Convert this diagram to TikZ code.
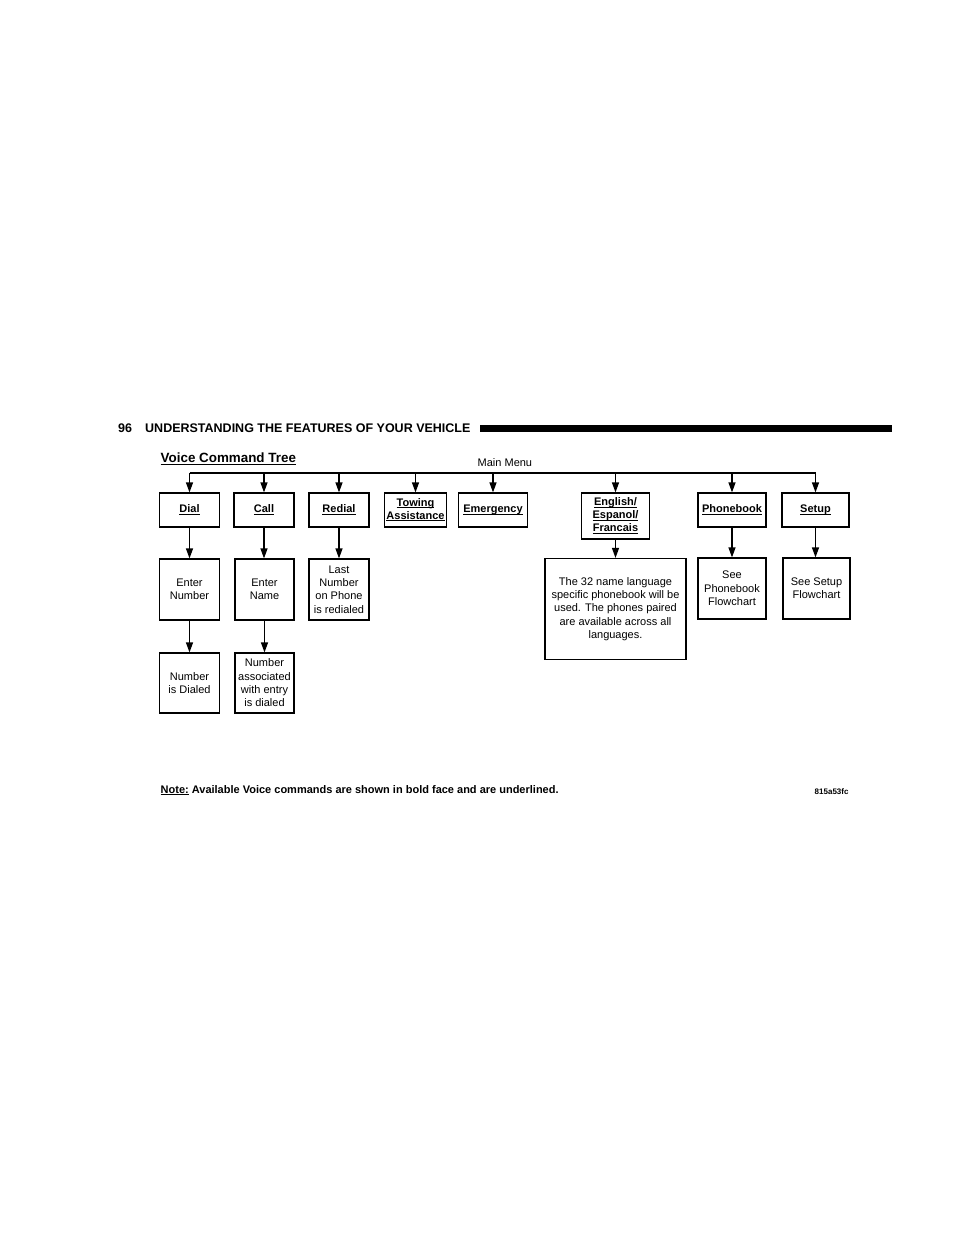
\documentclass[tikz,border=0pt]{standalone}
\usepackage{fontspec}
\setmainfont{Liberation Sans}
\usetikzlibrary{arrows.meta}
\newcommand\ulx[1]{\leavevmode\vphantom{Agy}\setbox0\hbox{#1}\rlap{\rule[-1.9pt]{\wd0}{0.9pt}}\box0\relax}
\begin{document}
\begin{tikzpicture}[x=1pt,y=-1pt,
  box/.style={draw,line width=1.2pt,inner sep=0pt,align=center,
    font=\fontsize{11}{13.3}\selectfont},
  cmd/.style={box,font=\fontsize{11}{13}\selectfont\bfseries},
  arr/.style={line width=1.2pt,-{Triangle[length=10pt,width=7pt]}},
  lbl/.style={inner sep=0pt,anchor=base west}]
\useasboundingbox (0,0) rectangle (954,1235);
\fill[white] (0,0) rectangle (954,1235);

% header
\node[lbl,font=\fontsize{12.5}{14}\selectfont\bfseries] (pg) at (118,432.3) {96};
\node[lbl,font=\fontsize{12.5}{14}\selectfont\bfseries] (hd) at (145,432.3) {UNDERSTANDING THE FEATURES OF YOUR VEHICLE};
\fill (480,424.5) rectangle (891.5,432);

\node[lbl,font=\fontsize{13.4}{15}\selectfont\bfseries] (title) at (160.5,462.5)
  {\leavevmode\setbox0\hbox{Voice Command Tree}\rlap{\rule[-2.6pt]{\wd0}{1.2pt}}\box0\relax};
\node[lbl,font=\fontsize{11}{13}\selectfont] (mm) at (477.5,466.5) {Main Menu};

% top row
\node[cmd,minimum width=60pt,minimum height=34pt] (dial) at (189.5,510) {\ulx{Dial}};
\node[cmd,minimum width=60pt,minimum height=34pt] (call) at (264,510) {\ulx{Call}};
\node[cmd,minimum width=60pt,minimum height=34pt] (redial) at (339,510) {\ulx{Redial}};
\node[cmd,minimum width=62pt,minimum height=34pt] (towing) at (415.5,510) {\ulx{Towing}\\\ulx{Assistance}};
\node[cmd,minimum width=69pt,minimum height=34pt] (emerg) at (493,510) {\ulx{Emergency}};
\node[cmd,minimum width=68pt,minimum height=46pt] (engl) at (615.5,516) {\ulx{English/}\\\ulx{Espanol/}\\\ulx{Francais}};
\node[cmd,minimum width=68pt,minimum height=34pt] (phone) at (732,510) {\ulx{Phonebook}};
\node[cmd,minimum width=67pt,minimum height=34pt] (setup) at (815.5,510) {\ulx{Setup}};

% main menu line
\coordinate (ml) at (0,473);
\draw[line width=1.2pt] (ml -| dial.north) -- (ml -| setup.north);
\foreach \n in {dial,call,redial,towing,emerg,engl,phone,setup}
  \draw[arr] (ml -| \n.north) -- (\n.north);

% second row
\node[box,minimum width=60pt,minimum height=61pt] (entnum) at (189.5,589.5) {Enter\\Number};
\node[box,minimum width=59pt,minimum height=61pt] (entname) at (264.5,589.5) {Enter\\Name};
\node[box,minimum width=60pt,minimum height=61pt] (lastnum) at (339,589.5) {Last\\Number\\on Phone\\is redialed};
\node[box,minimum width=141pt,minimum height=101pt] (lang) at (615.5,609) {The 32 name language\\specific phonebook will be\\used. The phones paired\\are available across all\\languages.};
\node[box,minimum width=68pt,minimum height=61pt] (seepb) at (732,588.5) {See\\Phonebook\\Flowchart};
\node[box,minimum width=67pt,minimum height=61pt] (seesetup) at (816.5,588.5) {See Setup\\Flowchart};

% third row
\node[box,minimum width=60pt,minimum height=60pt] (dialed) at (189.5,683) {Number\\is Dialed};
\node[box,minimum width=59pt,minimum height=60pt] (assoc) at (264.5,683) {Number\\associated\\with entry\\is dialed};

% connectors
\draw[arr] (dial.south) -- (entnum.north);
\draw[arr] (call.south) -- (call.south |- entname.north);
\draw[arr] (redial.south) -- (lastnum.north);
\draw[arr] (engl.south) -- (lang.north);
\draw[arr] (phone.south) -- (seepb.north);
\draw[arr] (setup.south) -- (setup.south |- seesetup.north);
\draw[arr] (entnum.south) -- (dialed.north);
\draw[arr] (entname.south) -- (assoc.north);

% note
\node[lbl,font=\fontsize{11}{13}\selectfont\bfseries] (note) at (160.5,793) {\ulx{Note:} Available Voice commands are shown in bold face and are underlined.};
\node[lbl,font=\fontsize{8}{9}\selectfont\bfseries] (code) at (814.5,794) {815a53fc};
\end{tikzpicture}
\end{document}
